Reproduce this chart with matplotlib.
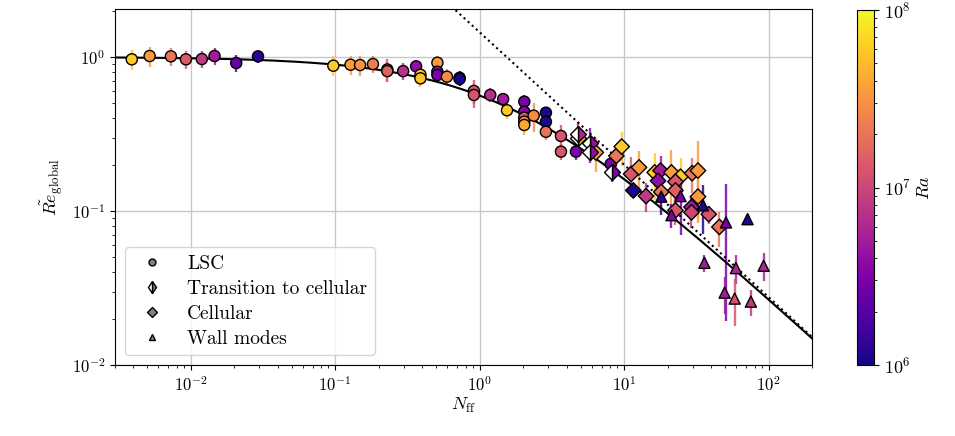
import numpy as np
import matplotlib
matplotlib.use("Agg")
import matplotlib.pyplot as plt
from matplotlib.colors import LogNorm
from matplotlib.lines import Line2D

plt.rcParams["font.family"] = "serif"
plt.rcParams["font.serif"] = ["cmr10", "DejaVu Serif"]
plt.rcParams["mathtext.fontset"] = "cm"
plt.rcParams["axes.formatter.use_mathtext"] = True

# LSC regime
lsc_N = [0.00392, 0.00521, 0.00731, 0.00929, 0.01197, 0.01465, 0.0207, 0.0293,
         0.0973, 0.128, 0.149, 0.183, 0.23, 0.23, 0.296, 0.364, 0.39, 0.39,
         0.511, 0.511, 0.511, 0.595, 0.728, 0.728, 0.914, 0.914, 1.186, 1.456,
         1.55, 2.04, 2.04, 2.04, 2.04, 2.04, 2.37, 2.88, 2.88, 2.88, 3.66, 3.66,
         4.65, 8.09]
lsc_Re = [0.966, 1.015, 1.01, 0.966, 0.97, 1.015, 0.914, 1.01,
          0.878, 0.891, 0.887, 0.90, 0.83, 0.81, 0.81, 0.87, 0.767, 0.727,
          0.918, 0.803, 0.764, 0.745, 0.733, 0.72, 0.602, 0.567, 0.567, 0.533,
          0.451, 0.513, 0.441, 0.404, 0.38, 0.362, 0.416, 0.435, 0.38, 0.327, 0.307, 0.243,
          0.243, 0.202]
lsc_Ra = [6e7, 3.5e7, 2e7, 1.4e7, 8e6, 5e6, 2.5e6, 1.2e6,
          6e7, 3.5e7, 3e7, 2.2e7, 1.3e7, 1.5e7, 7e6, 4e6, 6e7, 5.5e7,
          3.5e7, 3.5e6, 3e6, 2.8e7, 1.1e6, 1.1e6, 1.3e7, 1.2e7, 7e6, 5e6,
          6e7, 3e6, 3.5e6, 1.3e7, 3.5e7, 4e7, 2.8e7, 1.1e6, 1.1e6, 2e7, 1.3e7, 1.3e7,
          3e6, 3e6]
lsc_err = [0.145, 0.15, 0.14, 0.13, 0.12, 0.13, 0.12, 0.09,
           0.13, 0.13, 0.13, 0.11, 0.14, 0.12, 0.10, 0.08, 0.09, 0.09,
           0.10, 0.08, 0.08, 0.09, 0.08, 0.07, 0.11, 0.10, 0.06, 0.05,
           0.055, 0.05, 0.045, 0.05, 0.05, 0.05, 0.09, 0.035, 0.03, 0.04, 0.055, 0.03,
           0.03, 0.02]

# transition to cellular
tr_N = [4.77, 4.77, 5.8, 5.8, 8.22]
tr_Re = [0.30, 0.316, 0.275, 0.243, 0.18]
tr_Ra = [6e7, 6e6, 4e6, 4e6, 3e6]
tr_err = [0.05, 0.06, 0.07, 0.03, 0.025]

# cellular
cel_N = [6.38, 8.85, 9.64, 11.2, 12.7, 11.6, 14.2, 16.3, 17.9, 17.2, 18.1, 21.3,
         24.6, 22.7, 22.7, 22.7, 29.6, 32.5, 32.5, 29.3, 29.3, 38.6, 45.7]
cel_Re = [0.24, 0.228, 0.262, 0.174, 0.192, 0.136, 0.125, 0.178, 0.183, 0.157, 0.133, 0.178,
          0.167, 0.155, 0.136, 0.101, 0.176, 0.183, 0.124, 0.106, 0.098, 0.0953, 0.0788]
cel_Ra = [3.5e7, 2e7, 6e7, 1.3e7, 3.5e7, 1.1e6, 8e6, 6e7, 5e6, 4e6, 2e7, 3.5e7,
          6e7, 1.3e7, 1.5e7, 1.3e7, 2e7, 3.5e7, 3.5e7, 5e6, 1e7, 1.2e7, 2e7]
cel_err = [0.06, 0.04, 0.065, 0.05, 0.055, 0.012, 0.027, 0.06, 0.045, 0.02, 0.03, 0.07,
           0.055, 0.03, 0.03, 0.02, 0.045, 0.1, 0.035, 0.02, 0.02, 0.013, 0.02]

# wall modes
wm_N = [18.1, 24.6, 21.3, 35.2, 50.8, 36.0, 59.5, 49.7, 58.3, 71.6, 75.5, 92.5]
wm_Re = [0.124, 0.125, 0.094, 0.109, 0.0843, 0.0461, 0.0426, 0.0295, 0.027, 0.0885, 0.0258, 0.0441]
wm_Ra = [1.3e6, 3e6, 3e6, 1.2e6, 3e6, 5e6, 6e6, 5e6, 1.2e7, 1.2e6, 8e6, 6e6]
wm_err = [0.03, 0.055, 0.017, 0.038, 0.065, 0.006, 0.009, 0.008, 0.009, 0.007, 0.005, 0.009]

# fit / scaling lines
FIT_A, FIT_P, FIT_N0 = 0.86, 0.8, 1.54
SCALE_C = 1.45

cmap = plt.get_cmap("plasma")
norm = LogNorm(1e6, 1e8)

fig = plt.figure(figsize=(9.55, 4.36), dpi=100)
ax = fig.add_axes([115 / 955, 1 - 365 / 436, 697 / 955, 356 / 436])
cax = fig.add_axes([857 / 955, 1 - 365 / 436, 17 / 955, 355 / 436])


def bars(N, Re, Ra, err):
    N, Re, err = np.asarray(N), np.asarray(Re), np.asarray(err)
    ax.vlines(N, Re - err, Re + err, colors=cmap(norm(Ra)), lw=1.7, alpha=0.85, zorder=2)


for N, Re, Ra, err in [(lsc_N, lsc_Re, lsc_Ra, lsc_err), (tr_N, tr_Re, tr_Ra, tr_err),
                       (cel_N, cel_Re, cel_Ra, cel_err), (wm_N, wm_Re, wm_Ra, wm_err)]:
    bars(N, Re, Ra, err)

sc = ax.scatter(lsc_N, lsc_Re, c=lsc_Ra, cmap=cmap, norm=norm, marker="o", s=64,
                edgecolors="k", linewidths=1.0, zorder=3)
ax.scatter(cel_N, cel_Re, c=cel_Ra, cmap=cmap, norm=norm, marker="D", s=62,
           edgecolors="k", linewidths=1.0, zorder=3)
ax.scatter(wm_N, wm_Re, c=wm_Ra, cmap=cmap, norm=norm, marker="^", s=64,
           edgecolors="k", linewidths=1.0, zorder=3)
for n, r, ra in zip(tr_N, tr_Re, tr_Ra):
    ax.plot(n, r, marker="D", ms=7.8, fillstyle="right", markerfacecolor=cmap(norm(ra)),
            markerfacecoloralt="white", markeredgecolor="k", mew=1.0, ls="none", zorder=3)

xx = np.logspace(np.log10(3e-3), np.log10(200), 400)
ax.plot(xx, (1 + (xx / FIT_N0) ** FIT_P) ** (-FIT_A / FIT_P), color="k", lw=1.5, zorder=2.5)
xd = np.logspace(np.log10(0.5), np.log10(200), 200)
ax.plot(xd, SCALE_C * xd ** (-FIT_A), color="k", ls=":", lw=1.5, zorder=2.5)

ax.set_xscale("log")
ax.set_yscale("log")
ax.set_xlim(3e-3, 200)
ax.set_ylim(1e-2, 2.05)
ax.grid(True, which="major", color="#c8c8c8", lw=1.0)
ax.set_axisbelow(True)
ax.tick_params(labelsize=12)
ax.set_xlabel(r"$N_{\mathrm{ff}}$", fontsize=13, labelpad=2)
ax.set_ylabel(r"$\tilde{Re}_{\mathrm{global}}$", fontsize=13, labelpad=4)

gray = "#808080"
handles = [
    Line2D([], [], marker="o", ls="none", mfc=gray, mec="k", ms=5),
    Line2D([], [], marker="d", ls="none", mfc=gray, mfcalt="white", fillstyle="right", mec="k", ms=6),
    Line2D([], [], marker="D", ls="none", mfc=gray, mec="k", ms=5),
    Line2D([], [], marker="^", ls="none", mfc=gray, mec="k", ms=5),
]
ax.legend(handles, ["LSC", "Transition to cellular", "Cellular", "Wall modes"],
          loc="lower left", fontsize=14, labelspacing=0.36, framealpha=0.8)

cb = fig.colorbar(sc, cax=cax)
cb.ax.tick_params(labelsize=13)
cb.set_label(r"$Ra$", fontsize=13)

fig.savefig("out.png", dpi=100)
